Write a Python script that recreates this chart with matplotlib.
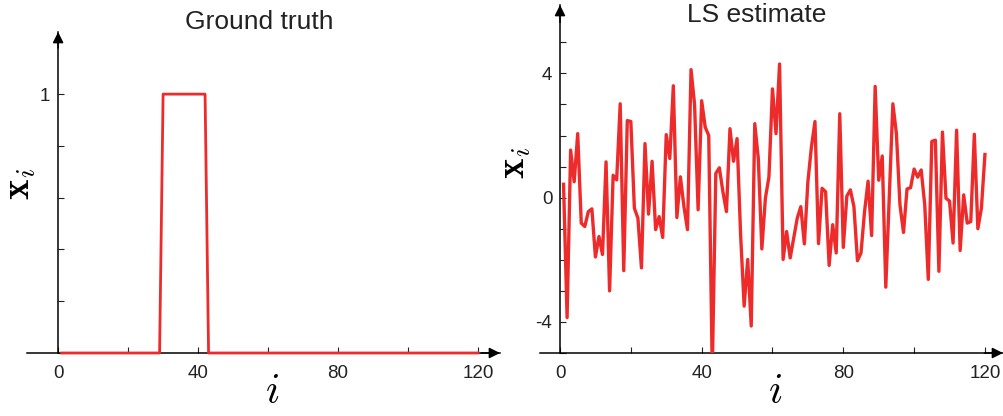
import matplotlib
matplotlib.use('Agg')
import matplotlib.pyplot as plt

plt.rcParams['font.family'] = ['Liberation Sans', 'DejaVu Sans']
plt.rcParams['mathtext.fontset'] = 'cm'
plt.rcParams['axes.unicode_minus'] = False

# ---- data ----
index = list(range(1, 121))
ground_truth = [0] * 29 + [1] * 13 + [0] * 78
ls_estimate = [
    0.43, -3.86, 1.53, 0.51, 2.06, -0.82, -0.93, -0.45, -0.36, -1.91,
    -1.25, -1.83, 1.15, -3.00, 0.72, 0.57, 3.02, -2.35, 2.48, 2.45,
    -0.34, -0.66, -2.26, 1.74, -0.53, 1.17, -1.03, -0.61, -1.28, 2.03,
    1.26, 3.60, -0.64, 0.67, -0.29, -1.03, 4.12, 3.00, -0.39, 3.12,
    2.27, 2.00, -5.60, 0.78, 0.96, 0.19, -0.45, 2.22, 1.17, 1.90,
    -1.19, -3.49, -1.99, -4.13, 2.38, 1.26, -1.65, -0.02, 0.67, 3.50,
    2.06, 4.30, -1.99, -1.09, -1.94, -1.30, -0.66, -0.29, -1.49, 0.51,
    1.63, 2.45, -1.48, 0.30, 0.19, -2.18, -0.87, -1.78, 2.70, -1.60,
    0.05, 0.25, -0.29, -2.03, -1.78, -0.45, 0.53, -1.22, 3.58, 0.56,
    1.34, -2.88, 0.07, 3.02, 2.06, -0.23, -1.12, 0.28, 0.32, 0.92,
    0.66, 0.89, -0.23, -2.63, 1.81, 1.85, -2.37, 2.11, -0.02, -0.11,
    -1.46, 2.17, -1.70, 0.09, -0.82, -0.77, 2.04, -1.00, -0.34, 1.39,
]
x_ticks = [0, 20, 40, 60, 80, 100, 120]
x_ticklabels = ['0', '', '40', '', '80', '', '120']
gt_yticks = [0, 0.2, 0.4, 0.6, 0.8, 1.0]
gt_yticklabels = ['', '', '', '', '', '1']
ls_yticks = [-5, -4, -3, -2, -1, 0, 1, 2, 3, 4, 5]
ls_yticklabels = ['', '-4', '', '', '', '0', '', '', '', '4', '']

RED = '#EE2B2B'
W, H = 1004, 416
fig = plt.figure(figsize=(W / 100, H / 100), dpi=100)


def px_axes(x0, x1, ytop, ybot):
    return fig.add_axes([x0 / W, (H - ybot) / H, (x1 - x0) / W, (ybot - ytop) / H])


def style(ax, yticks, yticklabels):
    for s in ['top', 'right']:
        ax.spines[s].set_visible(False)
    ax.spines['left'].set_position(('data', 0))
    ax.spines['left'].set_linewidth(1.1)
    ax.spines['bottom'].set_linewidth(1.1)
    ax.set_xticks(x_ticks)
    ax.set_xticklabels(x_ticklabels)
    ax.set_yticks(yticks)
    ax.set_yticklabels(yticklabels)
    ax.tick_params(axis='both', direction='in', length=4, width=0.8,
                   labelsize=13.5, colors='#222222')
    ax.tick_params(axis='x', pad=8.5)
    ax.tick_params(axis='y', pad=5.5)
    ap = dict(arrowstyle='-|>', color='k', lw=1.1, mutation_scale=16,
              shrinkA=0, shrinkB=0)
    ax.annotate('', xy=(1.0, 0.0), xytext=(0.96, 0.0), xycoords='axes fraction',
                arrowprops=ap, annotation_clip=False)
    ax.annotate('', xy=(0, 1.0), xytext=(0, 0.95),
                xycoords=('data', 'axes fraction'),
                arrowprops=ap, annotation_clip=False)


# left panel
ax1 = px_axes(27, 500, 32, 353)
ax1.plot(index, ground_truth, color=RED, lw=2.0, clip_on=False, zorder=3)
ax1.set_xlim(-8.9, 126.3)
ax1.set_ylim(0, 1.24)
style(ax1, gt_yticks, gt_yticklabels)

# right panel
ax2 = px_axes(540, 1003, 5, 353)
ax2.plot(index, ls_estimate, color=RED, lw=2.4, zorder=3)
ax2.set_xlim(-5.65, 125.1)
ax2.set_ylim(-5, 6.2)
style(ax2, ls_yticks, ls_yticklabels)

# titles and labels
fig.text(259 / W, 1 - 22 / H, 'Ground truth', ha='center', va='center',
         fontsize=19, color='#222222')
fig.text(757 / W, 1 - 15 / H, 'LS estimate', ha='center', va='center',
         fontsize=19, color='#222222')
fig.text(20 / W, 1 - 184 / H, r'$\mathbf{x}_i$', rotation=90, ha='center',
         va='center', fontsize=28)
fig.text(515 / W, 1 - 163 / H, r'$\mathbf{x}_i$', rotation=90, ha='center',
         va='center', fontsize=28)
fig.text(272 / W, 1 - 392 / H, r'$i$', ha='center', va='center', fontsize=30)
fig.text(775 / W, 1 - 392 / H, r'$i$', ha='center', va='center', fontsize=30)

fig.savefig('out.png', dpi=100)
